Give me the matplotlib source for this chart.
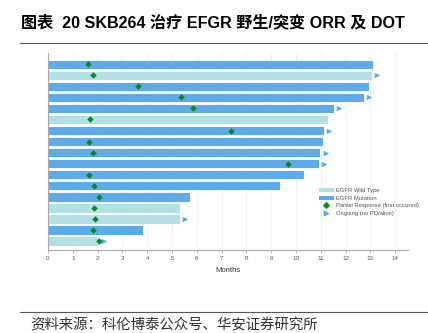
import matplotlib
matplotlib.use("Agg")
from matplotlib import pyplot as plt
from matplotlib.lines import Line2D
from matplotlib.patches import Patch

# rows top to bottom
duration = [13.10, 13.05, 12.93, 12.73, 11.52, 11.29, 11.11, 11.09, 10.98,
            10.91, 10.33, 9.37, 5.74, 5.33, 5.31, 3.85, 2.04]
group = ["mut", "wt", "mut", "mut", "mut", "wt", "mut", "mut", "mut",
         "mut", "mut", "mut", "mut", "wt", "wt", "mut", "wt"]
response = [1.62, 1.80, 3.61, 5.36, 5.85, 1.71, 7.36, 1.64, 1.80,
            9.66, 1.64, 1.84, 2.04, 1.84, 1.91, 1.80, 2.04]
ongoing = [False, True, False, True, True, False, True, False, True,
           True, False, False, False, False, True, False, True]
xticks = list(range(0, 15))

c_mut = "#5eabea"
c_wt = "#b1e0e5"
c_pr = "#0a8a1e"

plt.rcParams['font.family'] = ['Liberation Sans', 'Noto Sans CJK SC', 'DejaVu Sans']

fig = plt.figure(figsize=(4.28, 3.33), dpi=100)
ax = fig.add_axes([48 / 428, 83 / 333, (407.6 - 48) / 428, 197 / 333])

rows = list(range(len(duration)))
colors = [c_mut if g == "mut" else c_wt for g in group]
ax.barh(rows, duration, height=0.86, color=colors, edgecolor="white", linewidth=0.6, zorder=2)
ax.scatter(response, rows, marker="D", s=11, color=c_pr, zorder=4, linewidths=0)
arrow_x = [d + 0.22 for d, o in zip(duration, ongoing) if o]
arrow_y = [r for r, o in zip(rows, ongoing) if o]
ax.scatter(arrow_x, arrow_y, marker=">", s=16, color=c_mut, zorder=3, linewidths=0)

ax.set_xlim(0, 14.5)
ax.set_ylim(16.82, -1.02)
ax.set_xticks(xticks)
ax.set_yticks([])
ax.tick_params(axis="x", labelsize=4.5, length=2, width=0.5, color="#999999",
               labelcolor="#555555", pad=2)
ax.grid(axis="x", color="#ececec", linewidth=0.6, zorder=0)
for s in ["top", "right"]:
    ax.spines[s].set_visible(False)
for s in ["left", "bottom"]:
    ax.spines[s].set_color("#aaaaaa")
    ax.spines[s].set_linewidth(0.8)
ax.set_xlabel("Months", fontsize=5.5, color="#333333", labelpad=5)

handles = [
    Patch(facecolor=c_wt, edgecolor="none", label="EGFR Wild Type"),
    Patch(facecolor=c_mut, edgecolor="none", label="EGFR Mutation"),
    Line2D([], [], marker="D", color=c_pr, linestyle="none", markersize=2.8,
           label="Partial Response (first occured)"),
    Line2D([], [], marker=">", color=c_mut, linestyle="none", markersize=3.2,
           label="Ongoing (no PD/alive)"),
]
ax.legend(handles=handles, loc="upper left", bbox_to_anchor=(0.745, 0.33), frameon=False,
          fontsize=4.2, handlelength=2.6, handleheight=0.7, labelspacing=0.45,
          handletextpad=0.3, borderpad=0, labelcolor="#555555")

fig.text(21 / 428, 1 - 22 / 333, "图表  20 SKB264 治疗 EFGR 野生/突变 ORR 及 DOT",
         fontsize=11.6, fontweight="bold", va="center", ha="left",
         family=['Liberation Sans', 'Noto Sans CJK SC'])
fig.add_artist(Line2D([20 / 428, 1], [1 - 43 / 333] * 2, color="#555555", linewidth=0.8))
fig.add_artist(Line2D([20 / 428, 1], [1 - 312 / 333] * 2, color="#555555", linewidth=0.8))
fig.text(30 / 428, 1 - 325 / 333, "资料来源：科伦博泰公众号、华安证券研究所",
         fontsize=10.4, va="center", ha="left", color="#333333",
         family=['Noto Sans CJK SC'])

fig.savefig("out.png", dpi=100)
